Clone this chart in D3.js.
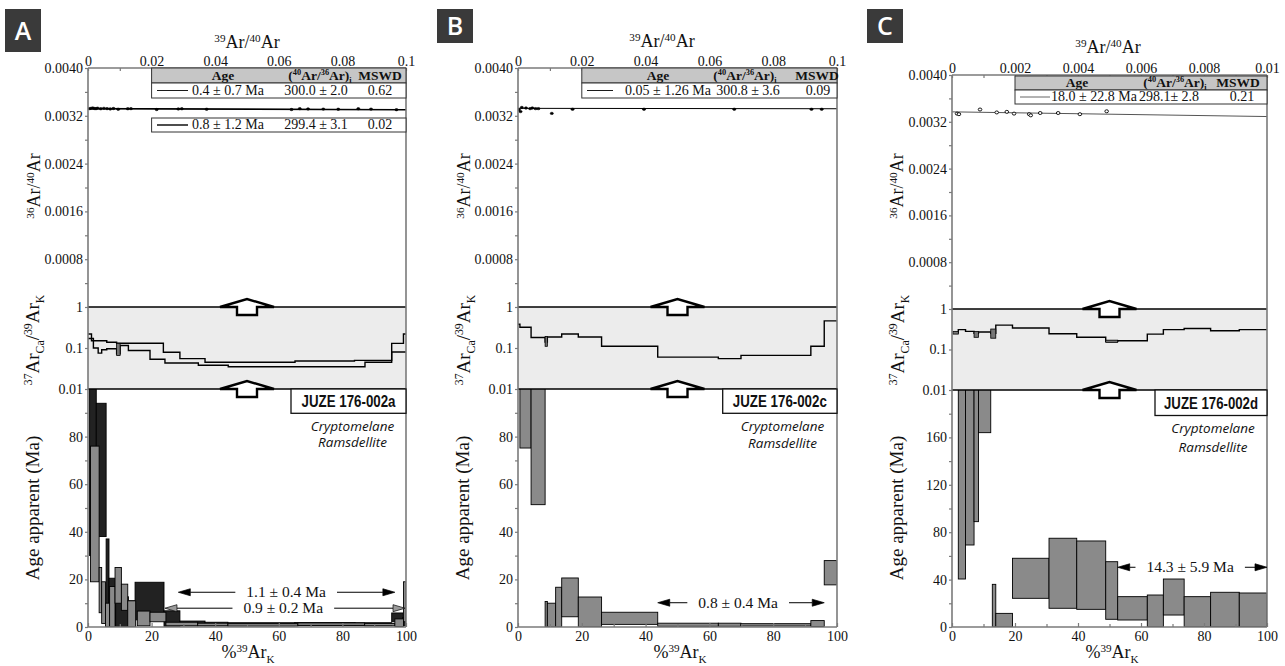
<!DOCTYPE html>
<html><head><meta charset="utf-8">
<script src="https://cdn.jsdelivr.net/npm/d3@7"></script>
<style>
body{margin:0;background:#fff}
svg{display:block}
text{font-family:"Liberation Serif","Times New Roman",serif;}
text.sans{font-family:"Open Sans","Noto Sans",sans-serif;}
text.narrow{font-family:"Liberation Sans","Arial",sans-serif;}
</style>
</head><body>
<svg id="chart" width="1285" height="666"></svg>
<script>
// ================= DATA =================
const panelLetters = ["A", "B", "C"];
const sampleNames = ["JUZE 176-002a", "JUZE 176-002c", "JUZE 176-002d"];
const mineralNames = ["Cryptomelane", "Ramsdellite"];

// tick labels
const isoXTickValuesAB = [0, 0.02, 0.04, 0.06, 0.08, 0.1];
const isoXTickLabelsAB = ["0", "0.02", "0.04", "0.06", "0.08", "0.1"];
const isoXTickValuesC = [0, 0.002, 0.004, 0.006, 0.008, 0.01];
const isoXTickLabelsC = ["0", "0.002", "0.004", "0.006", "0.008", "0.01"];
const isoYTickValues = [0.004, 0.0032, 0.0024, 0.0016, 0.0008];
const isoYTickLabels = ["0.0040", "0.0032", "0.0024", "0.0016", "0.0008"];
const ratioTickValues = [1, 0.1, 0.01];
const ratioTickLabels = ["1", "0.1", "0.01"];
const ageTicksAB = [0, 20, 40, 60, 80];
const ageTicksC = [0, 40, 80, 120, 160];
const pctTicks = [0, 20, 40, 60, 80, 100];

// ---- Panel A ----
const A_isoX = [0.0005,0.001,0.0015,0.002,0.0025,0.003,0.004,0.005,0.006,0.007,0.008,0.0095,0.0125,0.0135,0.0216,0.0284,0.0295,0.0373,0.064,0.0666,0.0692,0.074,0.0787,0.085,0.089,0.097];
const A_isoY = [0.00332,0.003325,0.00333,0.003322,0.00332,0.003328,0.003318,0.003325,0.00332,0.003315,0.003322,0.00331,0.003318,0.00332,0.003305,0.003315,0.003318,0.00331,0.003305,0.00332,0.003315,0.003312,0.00331,0.003318,0.003312,0.003302];
const A_isoLines = [[0, 0.003325, 0.1, 0.003305], [0, 0.003318, 0.1, 0.0033]];
const A_tableAges = ["0.4 ± 0.7 Ma", "0.8 ± 1.2 Ma"];
const A_tableRatios = ["300.0 ± 2.0", "299.4 ± 3.1"];
const A_tableMSWD = ["0.62", "0.02"];
// [start %, end %, value]
const A_ratioUpper = [[0,1.1,0.22],[1.1,5.9,0.15],[5.9,9,0.138],[9,14.8,0.131],[14.8,23.7,0.131],[23.7,28.9,0.079],[28.9,36.8,0.055],[36.8,65.1,0.045],[65.1,83.8,0.048],[83.8,95.5,0.05],[95.5,99.2,0.13],[99.2,100,0.22]];
const A_ratioLower = [[0,1.7,0.17],[1.7,3.2,0.1],[3.2,4.3,0.075],[4.3,5.9,0.091],[5.9,9,0.096],[9,10.1,0.072],[10.1,12.7,0.115],[12.7,19.5,0.087],[19.5,24.2,0.053],[24.2,34.7,0.043],[34.7,44.1,0.038],[44.1,87.1,0.035],[87.1,95.5,0.045],[95.5,100,0.08]];
const A_ratioBoxes = [[9,10.1,0.066,0.13]];
// [start %, end %, age low, age high]
const A_ageDark = [[0.5,2.6,30,140],[2.6,5.7,38,94],[5.7,6.6,3,37],[6.6,8.7,0.5,20.5],[8.7,12.7,0,12.7],[12.7,14.8,0,11],[14.8,23.9,3,18.8],[23.9,28.9,0.3,6.8],[28.9,36.8,0.5,2.5],[36.8,44,0.5,2],[44,65,0.5,1.8],[65,84,0.6,1.9],[84,95.5,0.6,1.8],[95.5,99,2.2,5.9],[99,100,0.5,4]];
const A_ageGray = [[0.8,3.5,19,76],[3.5,4.3,6,25],[4.3,5.5,1.5,19],[5.5,6.8,0,10],[6.8,8.5,0,17],[8.5,10.5,10,25],[10.5,12.5,7,18],[12.5,15,0,11],[15.5,19.5,0.5,6.7],[19.5,24.5,2.2,6.2],[24.5,34.5,0.5,2],[34.5,44,0.5,1.6],[44,66,0.4,1.4],[66,87,0.7,1.7],[87,96.5,0.5,1.5],[96.5,99.2,0.2,3.4],[99.2,100,2.2,19]];
const A_plateauLabels = ["1.1 ± 0.4 Ma", "0.9 ± 0.2 Ma"];
const A_plateauFrom = [28.4, 24.2];
const A_plateauTo = [96.5, 99.7];
const A_plateauAge = [14.6, 7.9];

// ---- Panel B ----
const B_isoX = [0.0003,0.0008,0.0012,0.0025,0.0038,0.0045,0.0055,0.0064,0.0106,0.0171,0.0395,0.0678,0.092,0.0952];
const B_isoY = [0.0033,0.00327,0.00334,0.00333,0.00332,0.00333,0.00332,0.00332,0.00324,0.00331,0.00331,0.00331,0.00331,0.00331];
const B_isoLines = [[0, 0.003325, 0.1, 0.003318]];
const B_tableAges = ["0.05 ± 1.26 Ma"];
const B_tableRatios = ["300.8 ± 3.6"];
const B_tableMSWD = ["0.09"];
const B_ratio = [[0,0.6,0.38],[0.6,4.1,0.32],[4.1,8.5,0.18],[8.5,9.2,0.14],[9.2,13.7,0.185],[13.7,18.9,0.22],[18.9,26.2,0.185],[26.2,43.8,0.11],[43.8,62.8,0.06],[62.8,69.9,0.055],[69.9,91.8,0.066],[91.8,96,0.11],[96,100,0.46]];
const B_ratioBoxes = [[8.5,9.2,0.11,0.19]];
const B_age = [[0.6,4.1,75.2,140],[4.1,8.5,51.4,140],[8.5,9.2,0,10.7],[9.2,11.8,0,10],[11.8,13.7,0,16.7],[13.7,18.9,4.3,20.6],[18.9,26.2,0,12.6],[26.2,43.8,1.1,6.2],[43.8,62.8,0.3,1.6],[62.8,69.9,0.3,1.6],[69.9,91.8,0.4,1.4],[91.8,96,0.2,2.7],[96,100,17.7,27.9]];
const B_plateauLabels = ["0.8 ± 0.4 Ma"];
const B_plateauFrom = [43.8];
const B_plateauTo = [96];
const B_plateauAge = [10.2];

// ---- Panel C ----
const C_isoX = [0.00016,0.00022,0.00089,0.00142,0.00174,0.00197,0.00245,0.0025,0.0028,0.00337,0.00406,0.00491];
const C_isoY = [0.00334,0.00333,0.00341,0.00336,0.00337,0.00334,0.00333,0.00331,0.00335,0.00335,0.00333,0.00338];
const C_isoLines = [[0, 0.00337, 0.01, 0.00329]];
const C_tableAges = ["18.0 ± 22.8 Ma"];
const C_tableRatios = ["298.1± 2.8"];
const C_tableMSWD = ["0.21"];
const C_ratio = [[0.3,2.0,0.26],[2.0,4.3,0.31],[4.3,7.0,0.28],[7.0,8.4,0.25],[8.4,12.3,0.27],[12.3,13.9,0.25],[13.9,19.2,0.40],[19.2,30.8,0.34],[30.8,39.6,0.245],[39.6,48.8,0.20],[48.8,52.6,0.16],[52.6,62.0,0.165],[62.0,67.1,0.24],[67.1,73.7,0.31],[73.7,82.1,0.33],[82.1,91.2,0.29],[91.2,100,0.31]];
const C_ratioBoxes = [[0.3,2.0,0.24,0.28],[7.0,8.4,0.2,0.28],[12.3,13.9,0.19,0.32],[48.8,52.6,0.15,0.17]];
const C_age = [[2.0,4.3,40.5,260],[4.3,7.0,69.2,260],[7.0,8.4,88.9,260],[8.4,12.3,164,260],[12.8,13.9,0,36],[13.9,19.2,0,11.5],[19.2,30.8,24.2,58],[30.8,39.6,15.8,74.9],[39.6,48.8,14.9,72.6],[48.8,52.6,6.5,55.1],[52.6,62.0,5.9,25.6],[62.0,67.1,0,27],[67.1,73.7,10.1,40.5],[73.7,82.1,0,25.6],[82.1,91.2,0,29.3],[91.2,100,0,28.7]];
const C_plateauLabels = ["14.3 ± 5.9 Ma"];
const C_plateauFrom = [52.6];
const C_plateauTo = [100];
const C_plateauAge = [50.4];

// ================= LAYOUT / STYLE =================
const FRAME = "#7a7a7a";
const DARK = "#222";
const GRAY = "#8a8a8a";

const layout = [
  {x0:88, x1:406, isoTop:68, rTop:307, rBot:389, bot:627, isoMax:0.1, ageMax:100,
   letter:[5,9,36,43], title:[247,48], btitle:[248,658],
   isoLblX:40, rLblX:39, ageLblX:39,
   tables:[{top:68, header:true, hh:15, rh:15},{top:118, header:false, rh:14}],
   hdrCols:[-183,-86,-26], rowCols:[-249,-218,-178,-90,-26], tblLeft:0.02,
   sample:[291,389,406,413.3], mineralX:352.5, mineralY:[430.7,446.7],
   plateauTextPct:[62.3, 61.4]},
  {x0:518, x1:837, isoTop:68, rTop:307, rBot:389, bot:627, isoMax:0.1, ageMax:100,
   letter:[437,9,36,34], title:[662,47], btitle:[680,658],
   isoLblX:470, rLblX:470, ageLblX:469,
   tables:[{top:68, header:true, hh:15, rh:15}],
   hdrCols:[-179,-92,-20], rowCols:[-250,-224,-169,-89,-19], tblLeft:0.02,
   sample:[722.7,389,837,413.3], mineralX:782.5, mineralY:[430.5,448],
   plateauTextPct:[69]},
  {x0:952, x1:1267, isoTop:75, rTop:309, rBot:390, bot:627, isoMax:0.01, ageMax:200,
   letter:[867,9,36,34], title:[1108,53], btitle:[1112,658],
   isoLblX:903, rLblX:904, ageLblX:903,
   tables:[{top:76, header:true, hh:14, rh:14}],
   hdrCols:[-190,-92,-29], rowCols:[-247,-217,-173,-98,-25], tblLeft:0.002,
   sample:[1155,390,1267,415.5], mineralX:1213, mineralY:[433,451.5],
   plateauTextPct:[75.6]}
];

const panelData = [
  {isoX:A_isoX, isoY:A_isoY, isoLines:A_isoLines, openPts:false,
   tblAges:A_tableAges, tblRatios:A_tableRatios, tblMSWD:A_tableMSWD,
   ratioSeries:[A_ratioUpper, A_ratioLower], ratioBoxes:A_ratioBoxes,
   ageSeries:[{steps:A_ageDark, fill:DARK},{steps:A_ageGray, fill:GRAY}],
   plateaus:A_plateauLabels.map((l,i)=>({label:l, from:A_plateauFrom[i], to:A_plateauTo[i], age:A_plateauAge[i], head: i===0 ? "#000" : "#9a9a9a"})),
   xTickVals:isoXTickValuesAB, xTickLbls:isoXTickLabelsAB, ageTicks:ageTicksAB},
  {isoX:B_isoX, isoY:B_isoY, isoLines:B_isoLines, openPts:false,
   tblAges:B_tableAges, tblRatios:B_tableRatios, tblMSWD:B_tableMSWD,
   ratioSeries:[B_ratio], ratioBoxes:B_ratioBoxes,
   ageSeries:[{steps:B_age, fill:GRAY}],
   plateaus:B_plateauLabels.map((l,i)=>({label:l, from:B_plateauFrom[i], to:B_plateauTo[i], age:B_plateauAge[i], head:"#000"})),
   xTickVals:isoXTickValuesAB, xTickLbls:isoXTickLabelsAB, ageTicks:ageTicksAB},
  {isoX:C_isoX, isoY:C_isoY, isoLines:C_isoLines, openPts:true,
   tblAges:C_tableAges, tblRatios:C_tableRatios, tblMSWD:C_tableMSWD,
   ratioSeries:[C_ratio], ratioBoxes:C_ratioBoxes,
   ageSeries:[{steps:C_age, fill:GRAY}],
   plateaus:C_plateauLabels.map((l,i)=>({label:l, from:C_plateauFrom[i], to:C_plateauTo[i], age:C_plateauAge[i], head:"#000"})),
   xTickVals:isoXTickValuesC, xTickLbls:isoXTickLabelsC, ageTicks:ageTicksC}
];

// ================= DRAW =================
const svg = d3.select("#chart");
svg.append("rect").attr("width",1285).attr("height",666).attr("fill","#fff");

function rich(textSel, parts, fs) {
  let shift = 0;
  parts.forEach(([t, kind]) => {
    const target = kind === "sup" ? -0.36 * fs : kind === "sub" ? 0.25 * fs : 0;
    textSel.append("tspan").attr("dy", target - shift)
      .attr("font-size", kind ? fs * 0.62 : fs).text(t);
    shift = target;
  });
}

function styleAxis(g, fs) {
  g.attr("font-family", null).attr("font-size", fs);
  g.selectAll(".domain").remove();
  g.selectAll(".tick line").attr("stroke", FRAME).attr("stroke-width", 1.2);
  g.selectAll(".tick text").attr("fill", "#111");
}

function stepPts(steps) {
  const pts = [];
  steps.forEach(s => { pts.push([s[0], s[2]]); pts.push([s[1], s[2]]); });
  return pts;
}

function bigArrow(g, cx, y) {
  const pts = [[cx-10,y+8],[cx-10,y],[cx-27,y],[cx,y-8],[cx+27,y],[cx+10,y],[cx+10,y+8]];
  g.append("polygon").attr("points", pts.map(p=>p.join(",")).join(" "))
    .attr("fill","#fff").attr("stroke","#000").attr("stroke-width",2.4).attr("stroke-linejoin","miter");
}

layout.forEach((P, i) => {
  const D = panelData[i];
  const g = svg.append("g");
  const xPct = d3.scaleLinear().domain([0,100]).range([P.x0,P.x1]);
  const xIso = d3.scaleLinear().domain([0,P.isoMax]).range([P.x0,P.x1]);
  const yIso = d3.scaleLinear().domain([0,0.004]).range([P.rTop,P.isoTop]);
  const yR = d3.scaleLog().domain([0.01,1]).range([P.rBot,P.rTop]);
  const yAge = d3.scaleLinear().domain([0,P.ageMax]).range([P.bot,P.rBot]);

  const defs = g.append("defs");
  const clipAge = "clipAge"+i, clipR = "clipR"+i, clipIso = "clipIso"+i;
  defs.append("clipPath").attr("id",clipAge).append("rect")
    .attr("x",P.x0).attr("y",P.rBot).attr("width",P.x1-P.x0).attr("height",P.bot-P.rBot);
  defs.append("clipPath").attr("id",clipR).append("rect")
    .attr("x",P.x0).attr("y",P.rTop).attr("width",P.x1-P.x0).attr("height",P.rBot-P.rTop);
  defs.append("clipPath").attr("id",clipIso).append("rect")
    .attr("x",P.x0).attr("y",P.isoTop).attr("width",P.x1-P.x0).attr("height",P.rTop-P.isoTop);

  // letter box
  const L = P.letter;
  g.append("rect").attr("x",L[0]).attr("y",L[1]).attr("width",L[2]).attr("height",L[3]).attr("fill","#3a3a3a");
  g.append("text").attr("class","sans").attr("x",L[0]+L[2]/2).attr("y",L[1]+L[3]/2+9).attr("text-anchor","middle")
    .attr("font-weight",600).attr("font-size",25)
    .attr("fill","#fff").text(panelLetters[i]);

  // ratio band
  g.append("rect").attr("x",P.x0).attr("y",P.rTop).attr("width",P.x1-P.x0).attr("height",P.rBot-P.rTop).attr("fill","#ececec");

  // age spectra
  const ageG = g.append("g").attr("clip-path",`url(#${clipAge})`);
  D.ageSeries.forEach(ser => {
    ageG.selectAll(null).data(ser.steps).enter().append("rect")
      .attr("x", d=>xPct(d[0])).attr("width", d=>xPct(d[1])-xPct(d[0]))
      .attr("y", d=>yAge(d[3])).attr("height", d=>yAge(d[2])-yAge(d[3]))
      .attr("fill", ser.fill).attr("stroke","#000").attr("stroke-width",0.9);
  });

  // ratio series
  const rG = g.append("g").attr("clip-path",`url(#${clipR})`);
  const rLine = d3.line().x(d=>xPct(d[0])).y(d=>yR(d[1]));
  D.ratioSeries.forEach(ser => {
    rG.append("path").attr("d", rLine(stepPts(ser))).attr("fill","none")
      .attr("stroke","#000").attr("stroke-width",1.4);
  });
  rG.selectAll(null).data(D.ratioBoxes).enter().append("rect")
    .attr("x", d=>xPct(d[0])).attr("width", d=>xPct(d[1])-xPct(d[0]))
    .attr("y", d=>yR(d[3])).attr("height", d=>yR(d[2])-yR(d[3]))
    .attr("fill","#777").attr("stroke","#000").attr("stroke-width",0.8);

  // isochron lines and points
  const isoG = g.append("g").attr("clip-path",`url(#${clipIso})`);
  D.isoLines.forEach((l, k) => {
    isoG.append("line").attr("x1",xIso(l[0])).attr("y1",yIso(l[1])).attr("x2",xIso(l[2])).attr("y2",yIso(l[3]))
      .attr("stroke", i===2 ? "#555" : "#000").attr("stroke-width", k===1 ? 1.3 : 1);
  });
  isoG.selectAll(null).data(D.isoX.map((x,k)=>[x, D.isoY[k]])).enter().append("ellipse")
    .attr("cx", d=>xIso(d[0])).attr("cy", d=>yIso(d[1]))
    .attr("rx", D.openPts ? 1.8 : 1.6).attr("ry", D.openPts ? 1.5 : 1.2)
    .attr("fill", D.openPts ? "#fff" : "#000").attr("stroke","#000").attr("stroke-width", D.openPts ? 0.9 : 0.5);

  // horizontal black lines at 1 and 0.01
  [1, 0.01].forEach(v => {
    g.append("line").attr("x1",P.x0).attr("x2",P.x1).attr("y1",yR(v)).attr("y2",yR(v))
      .attr("stroke","#000").attr("stroke-width",1.3);
  });

  // frame
  g.append("line").attr("x1",P.x0).attr("x2",P.x1).attr("y1",P.isoTop).attr("y2",P.isoTop).attr("stroke",FRAME).attr("stroke-width",1.6);
  g.append("line").attr("x1",P.x0).attr("x2",P.x1).attr("y1",P.bot).attr("y2",P.bot).attr("stroke",FRAME).attr("stroke-width",1.6);
  g.append("line").attr("x1",P.x0).attr("x2",P.x0).attr("y1",P.isoTop).attr("y2",P.bot).attr("stroke",FRAME).attr("stroke-width",1.6);
  g.append("line").attr("x1",P.x1).attr("x2",P.x1).attr("y1",P.isoTop).attr("y2",P.bot).attr("stroke",FRAME).attr("stroke-width",1.6);

  // top axis
  const minorIso = d3.range(0,5).map(k => P.isoMax*(2*k+1)/10);
  const topAx = g.append("g").attr("transform",`translate(0,${P.isoTop})`)
    .call(d3.axisTop(xIso).tickValues(D.xTickVals).tickFormat((d,k)=>D.xTickLbls[k]).tickSizeInner(-3).tickSizeOuter(0).tickPadding(2));
  styleAxis(topAx, 14);
  const topMin = g.append("g").attr("transform",`translate(0,${P.isoTop})`)
    .call(d3.axisTop(xIso).tickValues(minorIso).tickFormat(()=> "").tickSizeInner(-3).tickSizeOuter(0));
  styleAxis(topMin, 14);

  // left iso axis
  const isoAx = g.append("g").attr("transform",`translate(${P.x0},0)`)
    .call(d3.axisLeft(yIso).tickValues(isoYTickValues).tickFormat((d,k)=>isoYTickLabels[k]).tickSizeInner(3).tickSizeOuter(0).tickPadding(2));
  styleAxis(isoAx, 14);
  const isoMin = g.append("g").attr("transform",`translate(${P.x0},0)`)
    .call(d3.axisLeft(yIso).tickValues([0.0036,0.0028,0.002,0.0012,0.0004]).tickFormat(()=> "").tickSizeInner(3).tickSizeOuter(0));
  styleAxis(isoMin, 14);

  // ratio axis
  const rAx = g.append("g").attr("transform",`translate(${P.x0},0)`)
    .call(d3.axisLeft(yR).tickValues(ratioTickValues).tickFormat((d,k)=>ratioTickLabels[k]).tickSizeInner(3).tickSizeOuter(0).tickPadding(2));
  styleAxis(rAx, 14);

  // age axis
  const ageAx = g.append("g").attr("transform",`translate(${P.x0},0)`)
    .call(d3.axisLeft(yAge).tickValues(D.ageTicks).tickSizeInner(3).tickSizeOuter(0).tickPadding(2));
  styleAxis(ageAx, 14);
  const step = D.ageTicks[1]-D.ageTicks[0];
  const ageMin = g.append("g").attr("transform",`translate(${P.x0},0)`)
    .call(d3.axisLeft(yAge).tickValues(d3.range(step/2, P.ageMax, step)).tickFormat(()=> "").tickSizeInner(3).tickSizeOuter(0));
  styleAxis(ageMin, 14);

  // bottom axis
  const botAx = g.append("g").attr("transform",`translate(0,${P.bot})`)
    .call(d3.axisBottom(xPct).tickValues(pctTicks).tickSizeInner(-4).tickSizeOuter(0).tickPadding(4));
  styleAxis(botAx, 14);
  const botMin = g.append("g").attr("transform",`translate(0,${P.bot})`)
    .call(d3.axisBottom(xPct).tickValues([10,30,50,70,90]).tickFormat(()=> "").tickSizeInner(-3).tickSizeOuter(0));
  styleAxis(botMin, 14);

  // titles
  const tt = g.append("text").attr("x",P.title[0]).attr("y",P.title[1]).attr("text-anchor","middle")
    .attr("font-size",18).attr("fill","#111");
  rich(tt, [["39","sup"],["Ar/",null],["40","sup"],["Ar",null]], 18);

  const bt = g.append("text").attr("x",P.btitle[0]).attr("y",P.btitle[1]).attr("text-anchor","middle")
    .attr("font-size",18).attr("fill","#111");
  rich(bt, [["%",null],["39","sup"],["Ar",null],["K","sub"]], 18);

  const isoT = g.append("text").attr("transform",`translate(${P.isoLblX},186) rotate(-90)`).attr("text-anchor","middle")
    .attr("font-size",18).attr("fill","#111");
  rich(isoT, [["36","sup"],["Ar/",null],["40","sup"],["Ar",null]], 18);

  const rT = g.append("text").attr("transform",`translate(${P.rLblX},340) rotate(-90)`).attr("text-anchor","middle")
    .attr("font-size",19).attr("fill","#111");
  rich(rT, [["37","sup"],["Ar",null],["Ca","sub"],["/",null],["39","sup"],["Ar",null],["K","sub"]], 19);

  g.append("text").attr("transform",`translate(${P.ageLblX},508) rotate(-90)`).attr("text-anchor","middle")
    .attr("font-size",19).attr("fill","#111").text("Age apparent (Ma)");

  // tables
  const tblX0 = xIso(P.tblLeft);
  P.tables.forEach((T, k) => {
    let y = T.top;
    if (T.header) {
      g.append("rect").attr("x",tblX0).attr("y",y).attr("width",P.x1-tblX0).attr("height",T.hh)
        .attr("fill","#c6c6c6").attr("stroke","#333").attr("stroke-width",1);
      const hy = y + T.hh - 3;
      const hdr = (x) => g.append("text").attr("x",P.x1 + x).attr("y",hy).attr("text-anchor","middle")
        .attr("font-weight","bold").attr("font-size",13.5).attr("fill","#111");
      hdr(P.hdrCols[0]).text("Age");
      const h2 = hdr(P.hdrCols[1]);
      rich(h2, [["(",null],["40","sup"],["Ar/",null],["36","sup"],["Ar)",null],["i","sub"]], 13.5);
      hdr(P.hdrCols[2]).text("MSWD");
      y += T.hh;
    }
    g.append("rect").attr("x",tblX0).attr("y",y).attr("width",P.x1-tblX0).attr("height",T.rh)
      .attr("fill","#fff").attr("stroke","#333").attr("stroke-width",1);
    const ry = y + T.rh - 3;
    g.append("line").attr("x1",P.x1+P.rowCols[0]).attr("x2",P.x1+P.rowCols[1]).attr("y1",y+T.rh/2).attr("y2",y+T.rh/2)
      .attr("stroke", i===2 ? "#555" : "#000").attr("stroke-width", k===1 ? 1.4 : 0.9);
    const cell = (x) => g.append("text").attr("x",P.x1 + x).attr("y",ry).attr("text-anchor","middle")
      .attr("font-size",14).attr("fill","#111");
    cell(P.rowCols[2]).text(D.tblAges[k]);
    cell(P.rowCols[3]).text(D.tblRatios[k]);
    cell(P.rowCols[4]).text(D.tblMSWD[k]);
  });

  // big arrows
  const cx = xPct(50);
  bigArrow(g, cx, yR(1));
  bigArrow(g, cx, yR(0.01));

  // sample box
  const S = P.sample;
  g.append("rect").attr("x",S[0]).attr("y",S[1]).attr("width",S[2]-S[0]).attr("height",S[3]-S[1])
    .attr("fill","#fff").attr("stroke","#111").attr("stroke-width",1.3);
  g.append("text").attr("class","narrow").attr("x",(S[0]+S[2])/2).attr("y",(S[1]+S[3])/2 + 6).attr("text-anchor","middle")
    .attr("font-weight","bold")
    .attr("font-size",16.5).attr("textLength",94).attr("lengthAdjust","spacingAndGlyphs").attr("fill","#111")
    .text(sampleNames[i]);
  mineralNames.forEach((m, k) => {
    g.append("text").attr("class","sans").attr("x",P.mineralX).attr("y",P.mineralY[k]).attr("text-anchor","middle")
      .attr("font-style","italic").attr("font-size",13.5)
      .attr("fill","#111").text(m);
  });

  // plateau arrows
  D.plateaus.forEach((pl, k) => {
    const y = yAge(pl.age);
    const xa = xPct(pl.from), xb = xPct(pl.to);
    const t = g.append("text").attr("x", xPct(P.plateauTextPct[k])).attr("y", y+5).attr("text-anchor","middle")
      .attr("font-size",15.5).attr("fill","#111").text(pl.label);
    const bb = t.node().getBBox();
    const hl = 12, hw = 3.5;
    g.append("line").attr("x1",xa+hl).attr("x2",bb.x-11).attr("y1",y).attr("y2",y).attr("stroke","#000").attr("stroke-width",1);
    g.append("line").attr("x1",bb.x+bb.width+11).attr("x2",xb-hl).attr("y1",y).attr("y2",y).attr("stroke","#000").attr("stroke-width",1);
    g.append("polygon").attr("points",`${xa},${y} ${xa+hl},${y-hw} ${xa+hl},${y+hw}`)
      .attr("fill",pl.head).attr("stroke","#000").attr("stroke-width",0.7);
    g.append("polygon").attr("points",`${xb},${y} ${xb-hl},${y-hw} ${xb-hl},${y+hw}`)
      .attr("fill",pl.head).attr("stroke","#000").attr("stroke-width",0.7);
  });
});
</script>
</body></html>
